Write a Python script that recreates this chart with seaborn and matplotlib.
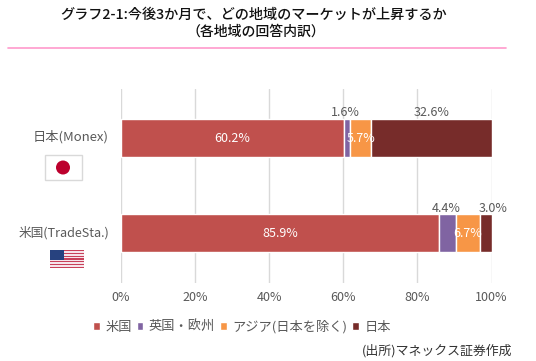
import numpy as np
import seaborn as sns
import matplotlib
matplotlib.use('Agg')
import matplotlib.pyplot as plt
from matplotlib.patches import Rectangle, Circle

sns.set_style('white')
plt.rcParams['font.family'] = ['Noto Sans CJK JP', 'DejaVu Sans']

categories = ['日本(Monex)', '米国(TradeSta.)']
series_names = ['米国', '英国・欧州', 'アジア(日本を除く)', '日本']
us = [60.2, 85.9]
europe = [1.6, 4.4]
asia = [5.7, 6.7]
japan = [32.6, 3.0]
colors = ['#C0504D', '#8064A2', '#F79646', '#772C2A']
xticks = [0, 20, 40, 60, 80, 100]

W, H = 536, 361
fig = plt.figure(figsize=(W / 100, H / 100), dpi=100)
ax = fig.add_axes([121 / W, 1 - 283 / H, 370.5 / W, 194 / H])

values = np.array([us, europe, asia, japan])
lefts = np.vstack([np.zeros(2), np.cumsum(values, axis=0)[:-1]])
for i, name in enumerate(series_names):
    sns.barplot(x=values[i], y=categories, left=lefts[i], color=colors[i],
                width=0.4, saturation=1, ax=ax, label=name, orient='h')

ax.set_xlim(0, 100)
ax.set_ylim(1.526, -0.516)
ax.set_xticks(xticks)
ax.set_xticklabels([f'{t}%' for t in xticks], fontsize=9, color='#595959')
ax.set_yticks([0, 1])
ax.set_yticklabels([])
ax.set_xlabel('')
ax.set_ylabel('')
ax.tick_params(axis='both', length=0)
ax.tick_params(axis='x', pad=6)
ax.grid(axis='x', color='#D9D9D9', lw=1)
ax.set_axisbelow(True)
for s in ax.spines.values():
    s.set_visible(False)

# value labels, small segments sit above the bar
for r in range(2):
    for i in range(4):
        v = values[i][r]
        mid = lefts[i][r] + v / 2
        if i == 0 or i == 2:
            ax.text(mid, r + 0.01, f'{v}%', ha='center', va='center', fontsize=9, color='white')
        else:
            # 3.0% label is pushed right in the source, the purple ones a bit left
            shift = {3: 2.0, 1: -0.4}[i] if (i == 1 or v == 3.0) else 0
            ax.text(mid + shift, r - 0.2 + 0.005, f'{v}%', ha='center', va='bottom', fontsize=9,
                    color='#595959')

ax.legend(loc='center left', bbox_to_anchor=(-0.075, -0.227), ncol=4, frameon=False,
          fontsize=9.5, handlelength=0.5, handleheight=0.5, handletextpad=0.4,
          columnspacing=0.4, labelcolor='#595959', borderaxespad=0, borderpad=0)

# overlay in pixel coords for title, rule, category names and flags
ov = fig.add_axes([0, 0, 1, 1])
ov.set_xlim(0, W)
ov.set_ylim(H, 0)
ov.axis('off')
ov.patch.set_alpha(0)

ov.text(254, 15, 'グラフ2-1:今後3か月で、どの地域のマーケットが上昇するか', ha='center', va='center',
        fontsize=10.2, color='#111111', fontweight='medium')
ov.text(256, 32, '（各地域の回答内訳）', ha='center', va='center', fontsize=10,
        color='#111111', fontweight='medium')
ov.plot([8, 506], [48, 48], color='#FF99CC', lw=1.2)

ov.text(109, 137, categories[0], ha='right', va='center', fontsize=9.5, color='#595959')
ov.text(109, 233, categories[1], ha='right', va='center', fontsize=9.1, color='#595959')

ov.add_patch(Rectangle((45, 155), 37, 25, fc='white', ec='#D9D9D9', lw=1))
ov.add_patch(Circle((63, 167.5), 7, fc='#BC002D', ec='none'))

# us flag
fx, fy, fw, fh = 50, 250, 34, 18
for k in range(13):
    ov.add_patch(Rectangle((fx, fy + k * fh / 13), fw, fh / 13,
                           fc='#C8415A' if k % 2 == 0 else '#F6E4EA', ec='none'))
ov.add_patch(Rectangle((fx, fy), 14, 9.5, fc='#27427F', ec='none'))

ov.text(512, 351, '(出所)マネックス証券作成', ha='right', va='center', fontsize=9.3, color='#333333')

plt.savefig('out.png', dpi=100)
